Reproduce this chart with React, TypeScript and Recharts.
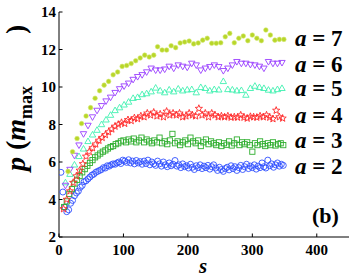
import { ScatterChart, Scatter, XAxis, YAxis } from 'recharts';

// s values and p(m_max) values, one pair of arrays per a
const s2 = [3, 6, 9, 12, 15, 18, 21, 24, 27, 30, 33, 36, 39, 42, 45, 48, 51, 54, 57, 60, 63, 66, 69, 72, 75, 78, 81, 84, 87, 90, 93, 96, 99, 102, 105, 108, 111, 114, 117, 120, 123, 126, 129, 132, 135, 138, 141, 144, 147, 150, 153, 156, 159, 162, 165, 168, 171, 174, 177, 180, 183, 186, 189, 192, 195, 198, 201, 204, 207, 210, 213, 216, 219, 222, 225, 228, 231, 234, 237, 240, 243, 246, 249, 252, 255, 258, 261, 264, 267, 270, 273, 276, 279, 282, 285, 288, 291, 294, 297, 300, 303, 306, 309, 312, 315, 318, 321, 324, 327, 330, 333, 336, 339, 342, 345, 348];
const p2 = [5.45, 4.4, 3.6, 3.35, 3.45, 3.8, 3.95, 4.2, 4.35, 4.45, 4.65, 4.75, 4.95, 5.0, 5.1, 5.2, 5.3, 5.35, 5.45, 5.5, 5.55, 5.6, 5.7, 5.68, 5.8, 5.78, 5.85, 5.9, 5.88, 5.95, 6.0, 5.92, 6.1, 6.05, 5.98, 6.12, 5.95, 6.05, 5.9, 6.08, 5.95, 6.02, 5.88, 6.05, 5.92, 6.1, 5.85, 6.0, 5.9, 5.82, 6.05, 5.9, 5.78, 6.0, 5.85, 5.75, 5.95, 5.8, 5.88, 6.08, 5.78, 5.85, 5.7, 5.9, 5.75, 5.8, 5.68, 5.88, 5.72, 5.6, 5.8, 5.7, 5.85, 5.65, 5.78, 5.7, 5.82, 5.62, 5.75, 5.85, 5.68, 5.55, 5.72, 5.6, 5.5, 5.65, 5.72, 5.58, 5.8, 5.65, 5.75, 5.55, 5.7, 5.82, 5.6, 5.75, 5.88, 5.65, 5.78, 5.7, 5.85, 5.62, 5.78, 5.7, 5.95, 5.75, 5.68, 6.1, 5.8, 5.9, 5.72, 5.85, 5.95, 5.78, 5.88, 5.82];

const s3 = [8, 12, 16, 20, 24, 28, 32, 36, 40, 44, 48, 52, 56, 60, 64, 68, 72, 76, 80, 84, 88, 92, 96, 100, 104, 108, 112, 116, 120, 124, 128, 132, 136, 140, 144, 148, 152, 156, 160, 164, 168, 172, 176, 180, 184, 188, 192, 196, 200, 204, 208, 212, 216, 220, 224, 228, 232, 236, 240, 244, 248, 252, 256, 260, 264, 268, 272, 276, 280, 284, 288, 292, 296, 300, 304, 308, 312, 316, 320, 324, 328, 332, 336, 340, 344, 348];
const p3 = [3.6, 3.9, 4.3, 4.55, 4.85, 5.05, 5.25, 5.45, 5.62, 5.8, 5.95, 6.1, 6.25, 6.35, 6.45, 6.55, 6.62, 6.72, 6.8, 6.85, 6.95, 7.0, 7.1, 7.15, 7.05, 7.2, 7.1, 7.25, 7.05, 7.15, 7.3, 7.05, 7.2, 7.1, 7.0, 7.15, 7.05, 7.3, 7.0, 7.1, 6.95, 7.15, 7.5, 7.0, 7.1, 6.9, 7.05, 7.15, 6.95, 7.3, 7.1, 7.0, 7.15, 6.85, 7.05, 7.2, 6.95, 7.1, 7.0, 6.9, 7.05, 6.85, 7.0, 6.92, 7.1, 6.88, 7.0, 7.2, 6.9, 7.05, 6.95, 7.05, 6.9, 6.55, 7.0, 6.9, 7.1, 6.95, 6.85, 7.0, 6.9, 7.05, 6.88, 6.95, 7.0, 6.9];

const s4 = [7, 12, 17, 22, 27, 32, 37, 42, 47, 52, 57, 62, 67, 72, 77, 82, 87, 92, 97, 102, 107, 112, 117, 122, 127, 132, 137, 142, 147, 152, 157, 162, 167, 172, 177, 182, 187, 192, 197, 202, 207, 212, 217, 222, 227, 232, 237, 242, 247, 252, 257, 262, 267, 272, 277, 282, 287, 292, 297, 302, 307, 312, 317, 322, 327, 332, 337, 342, 347];
const p4 = [3.5, 4.0, 4.45, 4.9, 5.25, 5.55, 5.9, 6.3, 6.55, 6.75, 6.95, 7.15, 7.3, 7.45, 7.6, 7.75, 7.9, 8.0, 8.1, 8.05, 8.25, 8.2, 8.35, 8.3, 8.45, 8.4, 8.6, 8.5, 8.65, 8.45, 8.55, 8.4, 8.7, 8.5, 8.6, 8.5, 8.6, 8.4, 8.45, 8.6, 8.5, 8.45, 8.85, 8.5, 8.6, 8.4, 8.6, 8.5, 8.4, 8.45, 8.4, 8.45, 8.38, 8.4, 8.38, 8.5, 8.38, 8.33, 8.42, 8.4, 8.38, 8.45, 8.4, 8.5, 8.38, 8.3, 8.75, 8.4, 8.33];

const s5 = [10, 17, 24, 31, 38, 45, 52, 59, 66, 73, 80, 87, 94, 101, 108, 115, 122, 129, 136, 143, 150, 157, 164, 171, 178, 185, 192, 199, 206, 213, 220, 227, 234, 241, 248, 255, 262, 269, 276, 283, 290, 297, 304, 311, 318, 325, 332, 339, 346];
const p5 = [4.9, 5.35, 5.85, 6.3, 6.7, 7.1, 7.45, 7.7, 8.0, 8.25, 8.5, 8.75, 8.9, 9.05, 9.2, 9.4, 9.45, 9.6, 9.65, 9.75, 9.95, 9.8, 9.7, 9.85, 9.75, 9.9, 9.8, 9.85, 9.87, 9.7, 9.98, 9.93, 9.8, 9.87, 9.85, 10.3, 9.87, 9.85, 9.8, 9.82, 9.57, 9.93, 10.05, 9.98, 9.93, 9.84, 9.8, 9.87, 9.93];

const s6 = [10, 17, 24, 31, 38, 45, 52, 59, 66, 73, 80, 87, 94, 101, 108, 115, 122, 129, 136, 143, 150, 157, 164, 171, 178, 185, 192, 199, 206, 213, 220, 227, 234, 241, 248, 255, 262, 269, 276, 283, 290, 297, 304, 311, 318, 325, 332, 339, 346];
const p6 = [4.75, 5.6, 6.35, 6.9, 7.5, 7.95, 8.4, 8.75, 9.0, 9.25, 9.45, 9.7, 9.9, 10.05, 10.2, 10.4, 10.55, 10.65, 10.8, 11.0, 10.9, 10.9, 10.95, 11.1, 11.0, 11.17, 11.1, 11.05, 11.26, 11.17, 10.9, 11.0, 11.08, 11.17, 11.08, 10.87, 11.0, 11.17, 11.35, 11.26, 11.26, 11.2, 11.17, 11.1, 11.0, 11.35, 11.26, 11.26, 11.3];

const s7 = [14, 21, 28, 35, 42, 49, 56, 63, 70, 77, 84, 91, 98, 105, 112, 119, 126, 133, 140, 147, 153, 160, 167, 174, 181, 188, 195, 202, 209, 216, 223, 230, 237, 244, 251, 258, 265, 272, 279, 286, 293, 300, 307, 314, 321, 328, 335, 342, 349];
const p7 = [5.5, 6.55, 7.25, 8.05, 8.45, 8.9, 9.4, 9.8, 10.1, 10.3, 10.65, 10.8, 11.1, 11.15, 11.25, 11.4, 11.55, 11.7, 11.6, 11.7, 12.15, 11.97, 11.97, 12.2, 12.1, 12.35, 12.4, 12.45, 12.3, 12.35, 12.5, 12.6, 12.33, 12.33, 12.36, 12.68, 12.86, 12.36, 12.6, 12.72, 12.47, 12.77, 12.6, 12.47, 13.04, 12.77, 12.5, 12.54, 12.54];

const xTicks = [0, 100, 200, 300, 400];
const yTicks = [2, 4, 6, 8, 10, 12, 14];
const labelA = ['7', '6', '5', '4', '3', '2'];

const FONT = "'Liberation Serif', 'Times New Roman', serif";
const BLUE = '#3050ff';
const GREEN = '#2fae2f';
const RED = '#ff2a2a';
const CYAN = '#3ff0b0';
const PURPLE = '#9a40ff';
const YELLOW = '#b8d62a';

const toRows = (s: number[], p: number[]) => s.map((v, i) => ({ s: v, p: p[i] }));

// marker shapes (MATLAB-like)
const circle = (props: any) => (
  <circle cx={props.cx} cy={props.cy} r={3} fill="none" stroke={BLUE} strokeWidth={0.9} />
);
const square = (props: any) => (
  <rect x={props.cx - 2.6} y={props.cy - 2.6} width={5.2} height={5.2} fill="none" stroke={GREEN} strokeWidth={0.9} />
);
const starPath = (cx: number, cy: number, r: number) => {
  const pts: string[] = [];
  for (let k = 0; k < 10; k++) {
    const rr = k % 2 === 0 ? r : r * 0.42;
    const ang = -Math.PI / 2 + (k * Math.PI) / 5;
    pts.push(`${cx + rr * Math.cos(ang)},${cy + rr * Math.sin(ang)}`);
  }
  return 'M' + pts.join('L') + 'Z';
};
const star = (props: any) => (
  <path d={starPath(props.cx, props.cy, 3.8)} fill="none" stroke={RED} strokeWidth={0.9} />
);
const triUp = (props: any) => (
  <path
    d={`M${props.cx},${props.cy - 3.4}L${props.cx + 3.2},${props.cy + 2.2}L${props.cx - 3.2},${props.cy + 2.2}Z`}
    fill="none"
    stroke={CYAN}
    strokeWidth={0.9}
  />
);
const triDown = (props: any) => (
  <path
    d={`M${props.cx},${props.cy + 3.4}L${props.cx + 3.2},${props.cy - 2.2}L${props.cx - 3.2},${props.cy - 2.2}Z`}
    fill="none"
    stroke={PURPLE}
    strokeWidth={0.9}
  />
);
const dot = (props: any) => (
  <circle cx={props.cx} cy={props.cy} r={2.3} fill={YELLOW} stroke="#d4ea70" strokeWidth={0.6} />
);

// inward ticks, labels outside
const bottomTick = (props: any) => (
  <g>
    <line x1={props.x} y1={props.y} x2={props.x} y2={props.y - 3.5} stroke="#000" />
    <text x={props.x} y={props.y + 18} textAnchor="middle" fontFamily={FONT} fontWeight="bold" fontSize={15} fill="#000">
      {props.payload.value}
    </text>
  </g>
);
const leftTick = (props: any) => (
  <g>
    <line x1={props.x} y1={props.y} x2={props.x + 3.5} y2={props.y} stroke="#000" />
    <text x={props.x - 3} y={props.y + 5} textAnchor="end" fontFamily={FONT} fontWeight="bold" fontSize={15} fill="#000">
      {props.payload.value}
    </text>
  </g>
);
const topTick = (props: any) => (
  <line x1={props.x} y1={props.y} x2={props.x} y2={props.y + 3.5} stroke="#000" />
);
const rightTick = (props: any) => (
  <line x1={props.x} y1={props.y} x2={props.x - 3.5} y2={props.y} stroke="#000" />
);

export default function App() {
  const legendY = [46, 71.5, 96, 122.5, 148, 173.5];
  return (
    <div style={{ position: 'absolute', left: 0, top: 0, width: 354, height: 280, background: '#fff' }}>
      <ScatterChart width={354} height={280} margin={{ top: 12, right: 5, bottom: 0, left: 0 }}>
        <XAxis
          type="number"
          dataKey="s"
          domain={[0, 450]}
          ticks={xTicks}
          height={43}
          tickSize={0}
          tickMargin={0}
          tickLine={false}
          axisLine={{ stroke: '#000' }}
          tick={bottomTick}
          allowDataOverflow
        />
        <XAxis
          xAxisId="top"
          orientation="top"
          type="number"
          domain={[0, 450]}
          ticks={xTicks}
          height={0}
          tickSize={0}
          tickMargin={0}
          tickLine={false}
          axisLine={{ stroke: '#000' }}
          tick={topTick}
          allowDataOverflow
        />
        <YAxis
          type="number"
          dataKey="p"
          domain={[2, 14]}
          ticks={yTicks}
          width={59}
          tickSize={0}
          tickMargin={0}
          tickLine={false}
          axisLine={{ stroke: '#000' }}
          tick={leftTick}
          allowDataOverflow
        />
        <YAxis
          yAxisId="right"
          orientation="right"
          type="number"
          domain={[2, 14]}
          ticks={yTicks}
          width={0}
          tickSize={0}
          tickMargin={0}
          tickLine={false}
          axisLine={{ stroke: '#000' }}
          tick={rightTick}
          allowDataOverflow
        />
        <Scatter data={toRows(s2, p2)} shape={circle} isAnimationActive={false} />
        <Scatter data={toRows(s3, p3)} shape={square} isAnimationActive={false} />
        <Scatter data={toRows(s4, p4)} shape={star} isAnimationActive={false} />
        <Scatter data={toRows(s5, p5)} shape={triUp} isAnimationActive={false} />
        <Scatter data={toRows(s6, p6)} shape={triDown} isAnimationActive={false} />
        <Scatter data={toRows(s7, p7)} shape={dot} isAnimationActive={false} />
      </ScatterChart>
      <svg width={354} height={280} style={{ position: 'absolute', left: 0, top: 0, pointerEvents: 'none' }}>
        <g fontFamily={FONT} fontWeight="bold" fill="#000">
          {labelA.map((a, i) => (
            <text key={a} x={295} y={legendY[i]} fontSize={23}>
              <tspan fontStyle="italic">a</tspan>
              <tspan> = {a}</tspan>
            </text>
          ))}
          <text x={312} y={223} fontSize={22}>(b)</text>
          <text x={203} y={273} fontSize={21} fontStyle="italic" textAnchor="middle">s</text>
          <text transform="translate(25,171) rotate(-90)" fontSize={28}>
            <tspan fontStyle="italic">p</tspan>
            <tspan> (</tspan>
            <tspan fontStyle="italic">m</tspan>
            <tspan fontSize={18} dy={7}>max</tspan>
          </text>
          <text transform="translate(25,34) rotate(-90)" fontSize={28}>)</text>
        </g>
      </svg>
    </div>
  );
}
